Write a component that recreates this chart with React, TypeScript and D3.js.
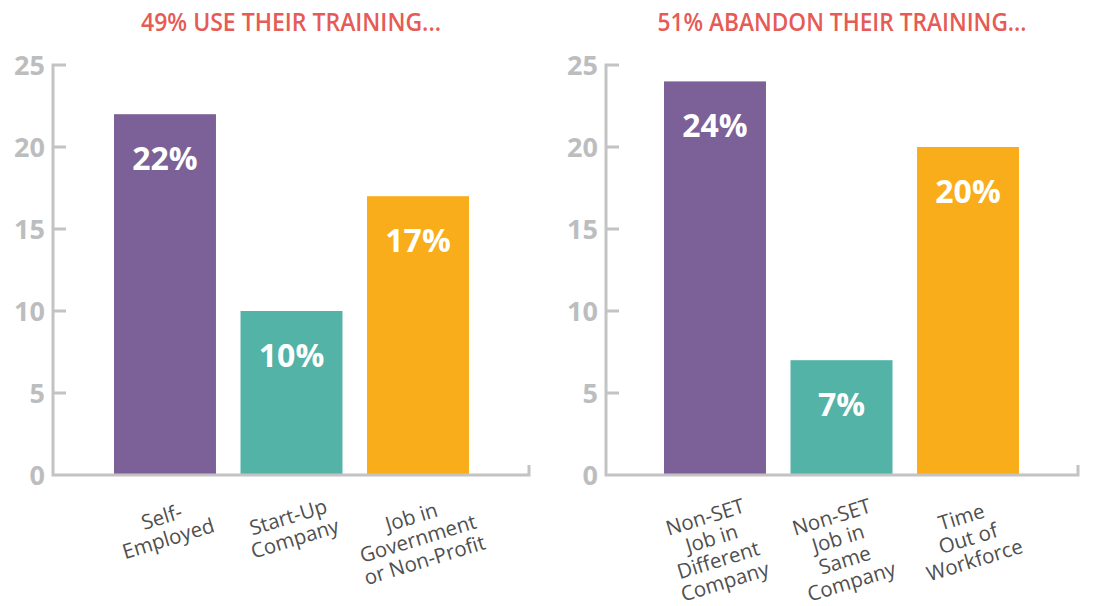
import React from "react";
import * as d3 from "d3";

const width = 1096;
const height = 606;

const leftTitle = "49% USE THEIR TRAINING...";
const leftCategories = ["Self-\nEmployed", "Start-Up\nCompany", "Job in\nGovernment\nor Non-Profit"];
const leftValues = [22, 10, 17];

const rightTitle = "51% ABANDON THEIR TRAINING...";
const rightCategories = ["Non-SET\nJob in\nDifferent\nCompany", "Non-SET\nJob in\nSame\nCompany", "Time\nOut of\nWorkforce"];
const rightValues = [24, 7, 20];

const yTicks = [0, 5, 10, 15, 20, 25];
const colors = ["#7b6197", "#52b3a6", "#f9ad1a"];

const axisColor = "#c3c3c3";
const tickLabelColor = "#bcbdbf";
const titleColor = "#e65b55";
const labelColor = "#4f4f4f";

const y = d3.scaleLinear().domain([0, 25]).range([475, 65]);

const angle = 17;
const lineH = 22.5;
const labelTop = 517;

type PanelProps = {
  title: string;
  titleWidth: number;
  categories: string[];
  values: number[];
  axisX: number;
  axisEnd: number;
  barStart: number;
  barEnd: number;
};

function Panel({ title, titleWidth, categories, values, axisX, axisEnd, barStart, barEnd }: PanelProps) {
  const x = d3.scaleBand<string>()
    .domain(categories)
    .range([barStart, barEnd])
    .paddingInner(0.194)
    .paddingOuter(0);
  const base = y(0);
  const cos = Math.cos((angle * Math.PI) / 180);

  return (
    <g>
      <text
        x={(axisX + axisEnd) / 2}
        y={31}
        textAnchor="middle"
        fill={titleColor}
        fontSize={25}
        fontWeight={600}
        textLength={titleWidth}
        lengthAdjust="spacingAndGlyphs"
      >
        {title}
      </text>

      {/* bars */}
      {categories.map((c, i) => (
        <rect key={c} x={x(c)} y={y(values[i])} width={x.bandwidth()} height={base - y(values[i])} fill={colors[i]} />
      ))}

      {/* axis */}
      <path
        d={`M${axisX + 13},${y(25)}H${axisX}V${base}H${axisEnd}V${base - 10}`}
        fill="none"
        stroke={axisColor}
        strokeWidth={3}
      />
      {yTicks.map(t => (
        <g key={t}>
          {t > 0 && t < 25 && (
            <line x1={axisX} x2={axisX + 13} y1={y(t)} y2={y(t)} stroke={axisColor} strokeWidth={3} />
          )}
          <text
            x={axisX - 8}
            y={y(t)}
            dy="0.36em"
            textAnchor="end"
            fill={tickLabelColor}
            fontSize={27}
            fontWeight={700}
          >
            {t}
          </text>
        </g>
      ))}

      {/* value labels */}
      {categories.map((c, i) => (
        <text
          key={c}
          x={(x(c) || 0) + x.bandwidth() / 2}
          y={y(values[i]) + 56}
          textAnchor="middle"
          fill="#ffffff"
          fontSize={32}
          fontWeight={700}
        >
          {values[i]}%
        </text>
      ))}

      {/* category labels */}
      {categories.map(c => {
        const lines = c.split("\n");
        const mid = (lines.length - 1) / 2;
        const cx = (x(c) || 0) + x.bandwidth() / 2;
        const cy = labelTop + mid * lineH * cos;
        return (
          <g key={c} transform={`translate(${cx},${cy}) rotate(${-angle})`}>
            {lines.map((l, j) => (
              <text
                key={j}
                x={0}
                y={(j - mid) * lineH}
                dy="0.35em"
                textAnchor="middle"
                fill={labelColor}
                fontSize={20.5}
              >
                {l}
              </text>
            ))}
          </g>
        );
      })}
    </g>
  );
}

export default function App() {
  return (
    <svg
      width={width}
      height={height}
      style={{ position: "absolute", left: 0, top: 0, background: "#fff", fontFamily: "'Open Sans', sans-serif" }}
    >
      <Panel
        title={leftTitle}
        titleWidth={300}
        categories={leftCategories}
        values={leftValues}
        axisX={53}
        axisEnd={529}
        barStart={114}
        barEnd={469}
      />
      <Panel
        title={rightTitle}
        titleWidth={369}
        categories={rightCategories}
        values={rightValues}
        axisX={606}
        axisEnd={1078}
        barStart={664}
        barEnd={1019}
      />
    </svg>
  );
}
